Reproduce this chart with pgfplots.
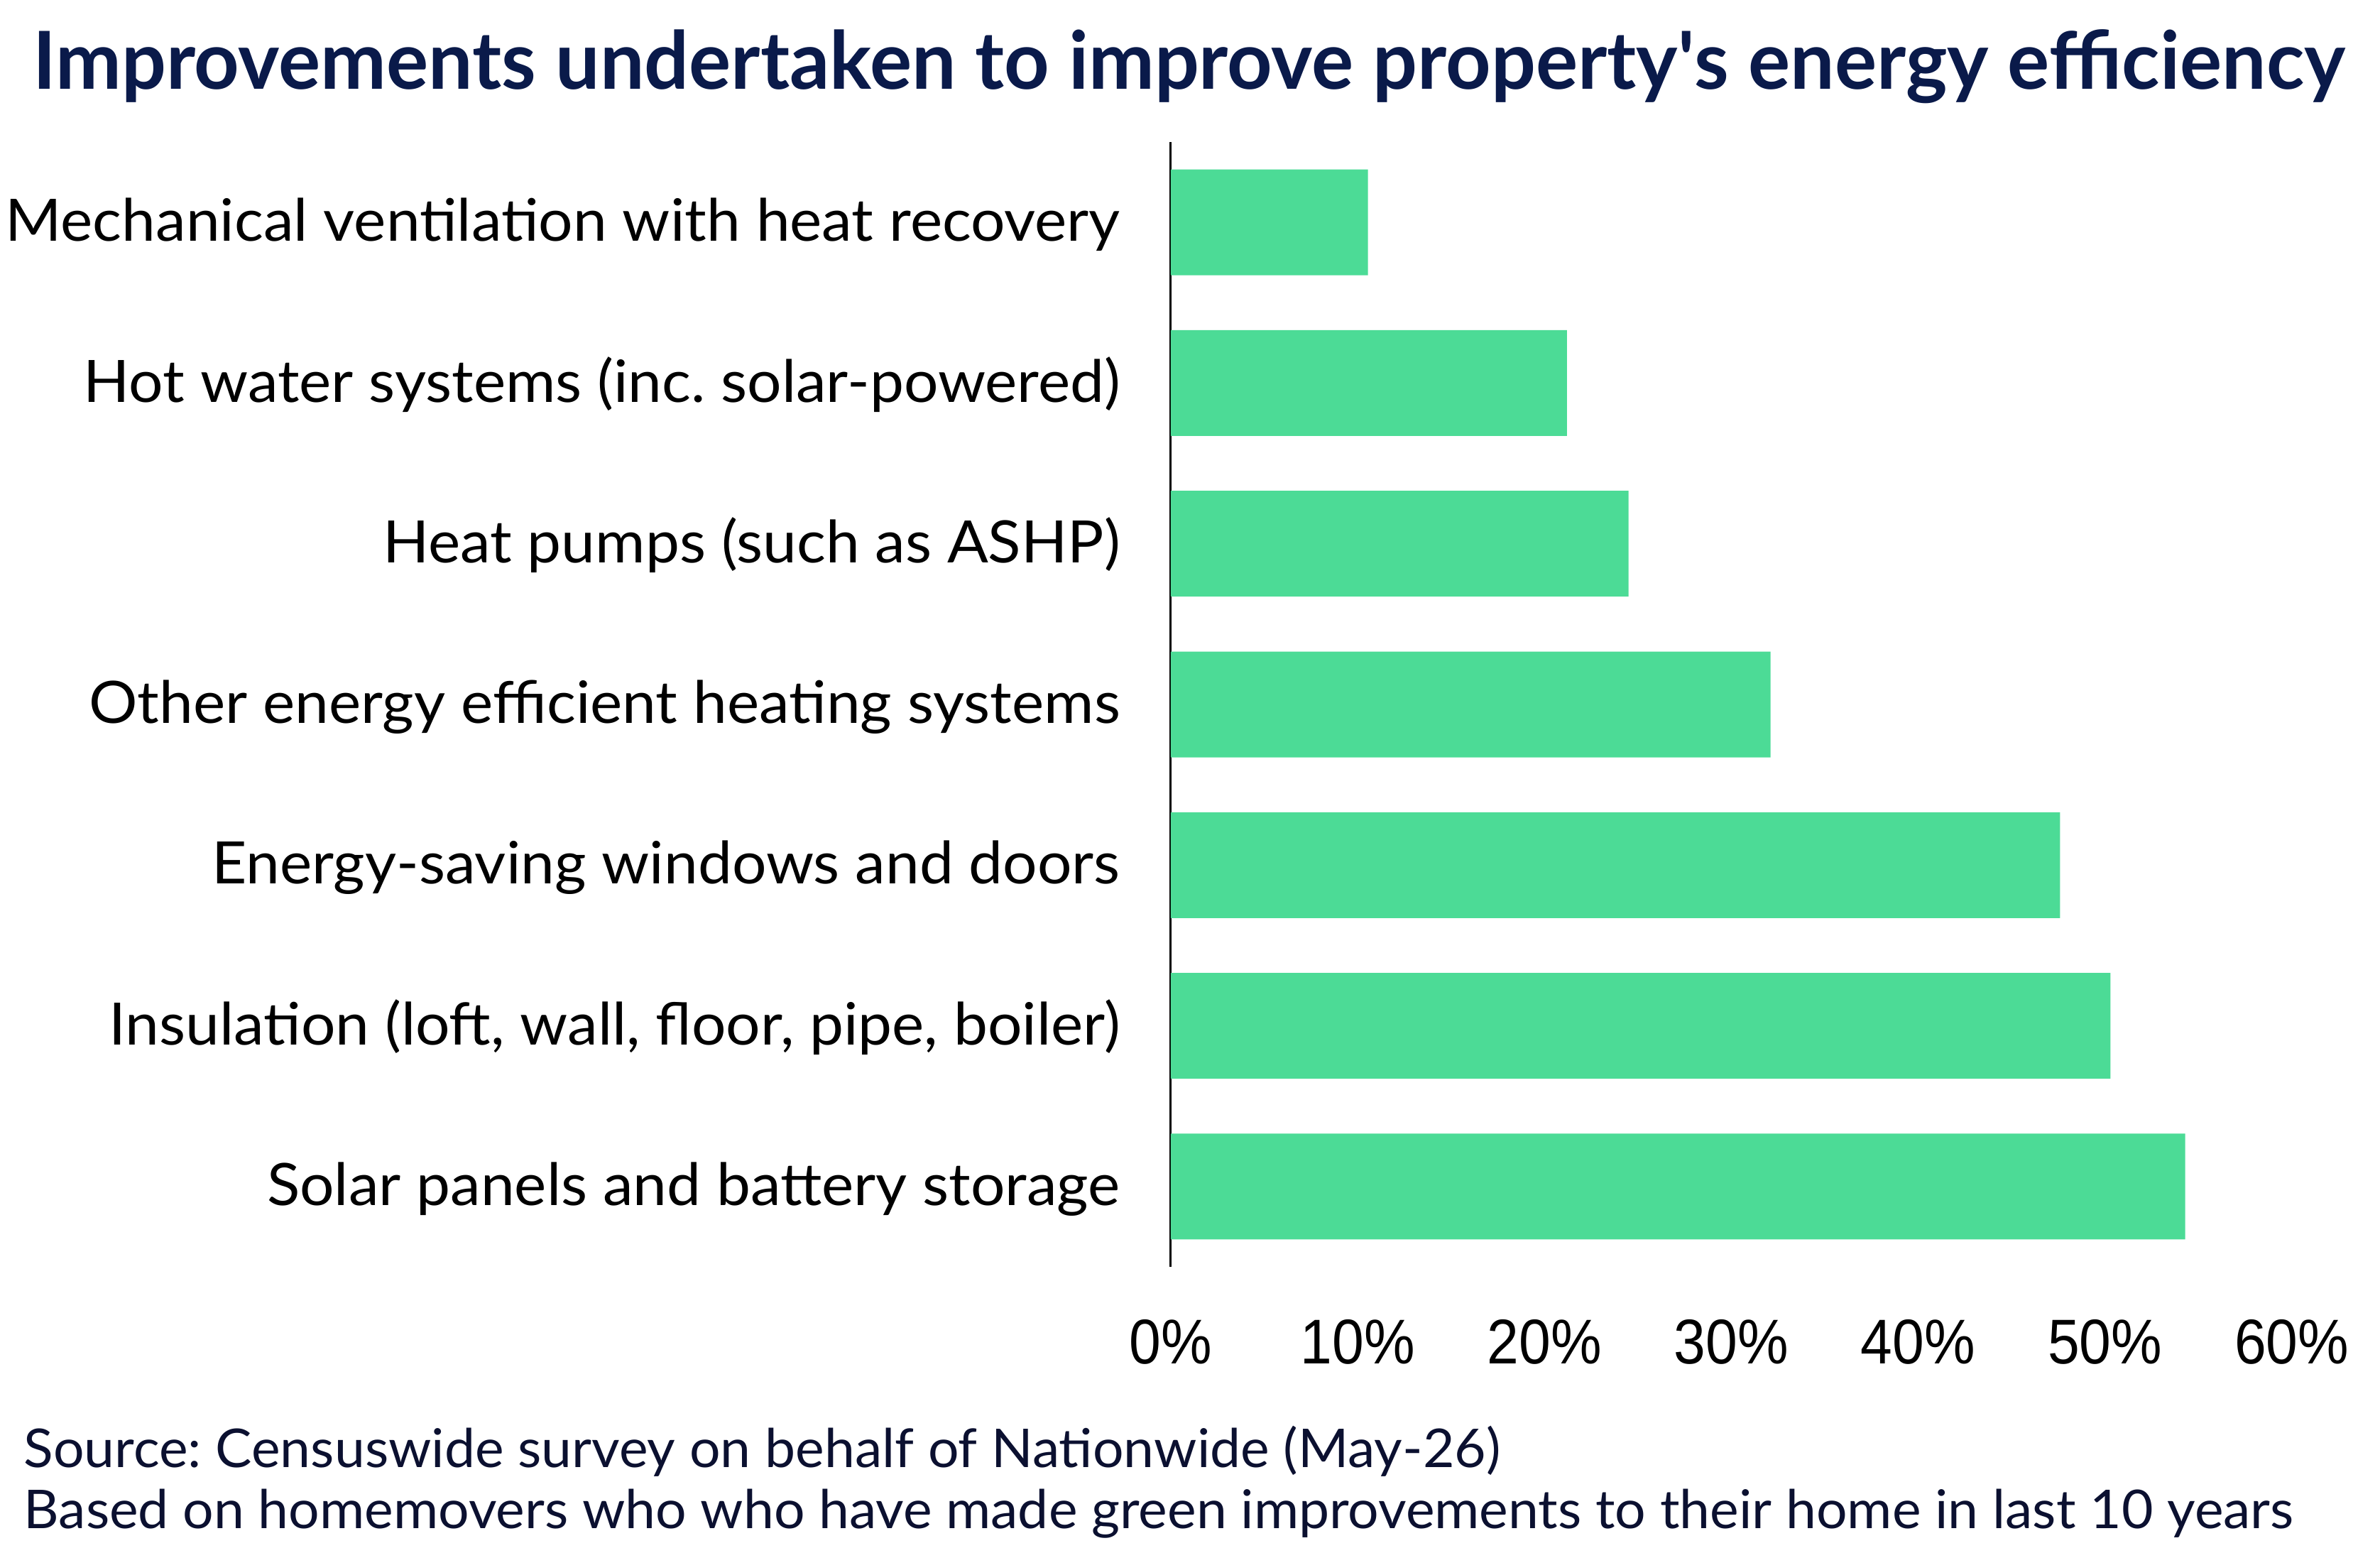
\documentclass[border=0pt]{standalone}
\usepackage{fontspec}
\setmainfont{Lato}
\newfontfamily\tickfont{Liberation Sans}
\usepackage{pgfplots}
\pgfplotsset{compat=1.18}
\usepackage{graphicx}
\definecolor{bargreen}{HTML}{4CDB96}
\definecolor{titlenavy}{HTML}{0A1A4A}
\definecolor{footnavy}{HTML}{0B1030}
\newlength\tmpw
\newcommand\labfont{\fontsize{12.35}{14}\selectfont}
\newcommand\titlefont{\fontsize{16.9}{19}\selectfont\bfseries}
\newcommand\footfont{\fontsize{11.3}{13}\selectfont}
\newcommand\tkfont{\tickfont\fontsize{13.35}{15}\selectfont}
\begin{document}
\frenchspacing
\settowidth\tmpw{\labfont Mechanical ventilation with heat recovery}%
\pgfmathsetmacro\labfac{235.5/\tmpw}%
\settowidth\tmpw{\titlefont Improvements undertaken to improve property\textquotesingle s energy efficiency}%
\pgfmathsetmacro\titfac{488.5/\tmpw}%
\settowidth\tmpw{\footfont Based on homemovers who who have made green improvements to their home in last 10 years}%
\pgfmathsetmacro\footfac{479.5/\tmpw}%
\settowidth\tmpw{\tkfont 10\%}%
\pgfmathsetmacro\tickfac{24.15/\tmpw}%
\newcommand\lab[1]{\scalebox{\labfac}[1]{\labfont #1}}%
\begin{tikzpicture}
\useasboundingbox (-247.35pt,-60.45pt) rectangle (255.45pt,267.6pt);
\begin{axis}[
  at={(0pt,0pt)}, anchor=south west,
  scale only axis, width=236.8pt, height=237.6pt,
  xmin=0, xmax=60, ymin=-0.5, ymax=6.5, y dir=reverse,
  axis lines*=left,
  x axis line style={draw=none},
  y axis line style={draw=black, line width=0.45pt},
  xtick={0,10,...,60}, ytick={0,...,6},
  major tick length=0pt,
  /pgf/number format/assume math mode=true,
  xticklabel={\scalebox{\tickfac}[1]{\tkfont\pgfmathprintnumber{\tick}\%}},
  xticklabel style={anchor=base, yshift=-20.55pt, inner sep=0pt},
  yticklabels={\lab{Mechanical ventilation with heat recovery},
               \lab{Hot water systems (inc. solar-powered)},
               \lab{Heat pumps (such as ASHP)},
               \lab{Other energy efficient heating systems},
               \lab{Energy-saving windows and doors},
               \lab{{Insulation (loft, wall, floor, pipe, boiler)}},
               \lab{Solar panels and battery storage}},
  yticklabel style={anchor=base east, inner sep=0pt, xshift=-10.5pt, yshift=-4pt},
  clip=false,
  xbar, bar width=22.35pt, bar shift=0pt,
]
\addplot[fill=bargreen, draw=none] coordinates {
  (10.55,0) (21.2,1) (24.5,2) (32.1,3) (47.6,4) (50.3,5) (54.3,6)};
\end{axis}
\node[anchor=base west, inner sep=0pt, text=titlenavy] at (-240.6pt,248.7pt)
  {\scalebox{\titfac}[1]{\titlefont Improvements undertaken to improve property\textquotesingle s energy efficiency}};
\node[anchor=base west, inner sep=0pt, text=footnavy] at (-242.5pt,-42.45pt)
  {\scalebox{\footfac}[1]{\footfont Source: Censuswide survey on behalf of Nationwide (May-26)}};
\node[anchor=base west, inner sep=0pt, text=footnavy] at (-242.5pt,-55.35pt)
  {\scalebox{\footfac}[1]{\footfont Based on homemovers who who have made green improvements to their home in last 10 years}};
\end{tikzpicture}
\end{document}
